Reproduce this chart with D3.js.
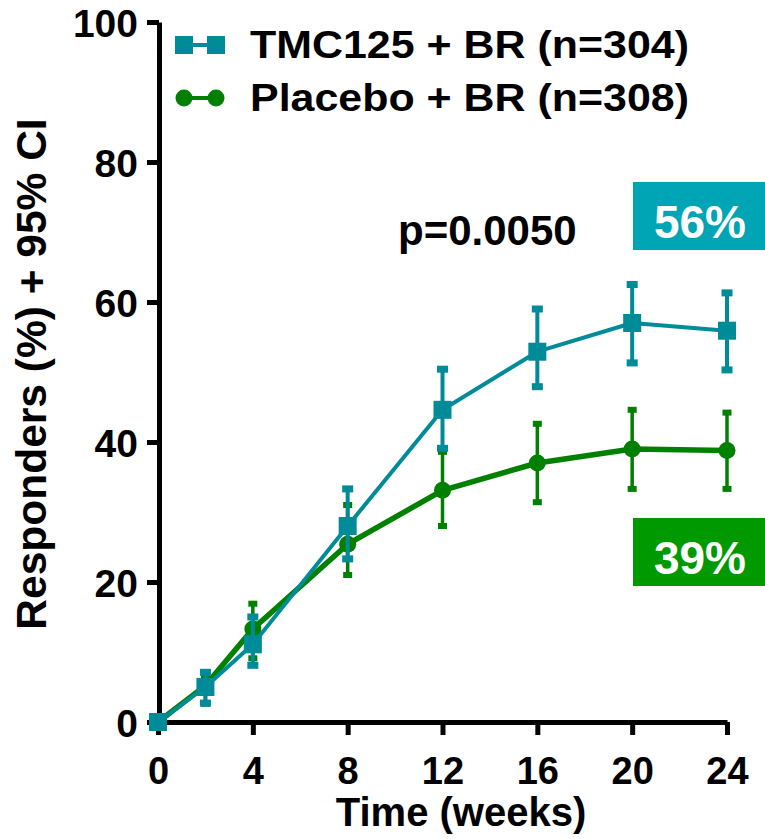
<!DOCTYPE html>
<html>
<head>
<meta charset="utf-8">
<script src="https://cdn.jsdelivr.net/npm/d3@7"></script>
<style>
  html, body { margin: 0; padding: 0; background: #fff; }
  svg { display: block; font-family: "Liberation Sans", Arial, sans-serif; font-weight: bold; }
</style>
</head>
<body>
<div id="chart"></div>
<script>
// Responders over time
const weeks = [0, 2, 4, 8, 12, 16, 20, 24];

const tmcMean = [0, 5.0, 11.1, 28.0, 44.6, 52.9, 57.0, 55.9];
const tmcLow  = [0, 2.7, 8.1, 23.3, 39.1, 47.9, 51.3, 50.3];
const tmcHigh = [0, 7.1, 15.0, 33.3, 50.4, 59.0, 62.5, 61.3];

const pboMean = [0, 5.2, 13.3, 25.4, 33.1, 37.0, 39.0, 38.8];
const pboLow  = [0, 2.6, 9.1, 21.0, 28.0, 31.4, 33.3, 33.3];
const pboHigh = [0, 6.6, 16.9, 31.0, 38.6, 42.6, 44.6, 44.2];

const xTicks = [0, 4, 8, 12, 16, 20, 24];
const yTicks = [0, 20, 40, 60, 80, 100];

const seriesNames = ['TMC125 + BR (n=304)', 'Placebo + BR (n=308)'];
const endLabels = ['56%', '39%'];
const pValue = 'p=0.0050';

const TEAL = '#008b98', TEAL_BOX = '#00a5b5';
const GREEN = '#008000', GREEN_BOX = '#009900';

const W = 765, H = 839;

const svg = d3.select('#chart').append('svg')
  .attr('width', W)
  .attr('height', H);

const x = d3.scaleLinear().domain([0, 24]).range([158, 727]);
const y = d3.scaleLinear().domain([0, 100]).range([722, 22]);

// Axes
const yAxis = svg.append('g')
  .attr('transform', 'translate(159,0)')
  .call(d3.axisLeft(y).tickValues(yTicks).tickSize(12).tickSizeOuter(0).tickPadding(9));

const xAxis = svg.append('g')
  .attr('transform', 'translate(0,722)')
  .call(d3.axisBottom(x).tickValues(xTicks).tickSize(13).tickSizeOuter(0).tickPadding(22));

[yAxis, xAxis].forEach(ax => {
  ax.select('.domain').attr('stroke', '#000').attr('stroke-width', 5);
  ax.selectAll('.tick line').attr('stroke', '#000').attr('stroke-width', 5);
  ax.selectAll('.tick text')
    .attr('fill', '#000')
    .attr('font-family', '"Liberation Sans", Arial, sans-serif')
    .attr('font-weight', 'bold');
});
yAxis.selectAll('.tick text').attr('font-size', 39).attr('dy', '0.36em');
xAxis.selectAll('.tick text').attr('font-size', 38);

// Axis titles
svg.append('text')
  .attr('transform', 'translate(46,374) rotate(-90)')
  .attr('text-anchor', 'middle')
  .attr('font-size', 42.5)
  .text('Responders (%) + 95% CI');

svg.append('text')
  .attr('x', 461)
  .attr('y', 826)
  .attr('text-anchor', 'middle')
  .attr('font-size', 40)
  .text('Time (weeks)');

// Series drawing
function drawSeries(mean, low, high, color, lineW, errW, capW, capH, marker) {
  const pts = weeks.map((w, i) => ({ w, m: mean[i], lo: low[i], hi: high[i] }));
  const g = svg.append('g');

  const line = d3.line().x(d => x(d.w)).y(d => y(d.m));
  g.append('path')
    .datum(pts)
    .attr('d', line)
    .attr('fill', 'none')
    .attr('stroke', color)
    .attr('stroke-width', lineW)
    .attr('stroke-linejoin', 'round');

  const bars = pts.filter(d => d.hi > d.lo);
  g.selectAll('.err')
    .data(bars)
    .join('line')
    .attr('x1', d => x(d.w)).attr('x2', d => x(d.w))
    .attr('y1', d => y(d.hi)).attr('y2', d => y(d.lo))
    .attr('stroke', color)
    .attr('stroke-width', errW);

  g.selectAll('.cap')
    .data(bars.flatMap(d => [{ w: d.w, v: d.hi }, { w: d.w, v: d.lo }]))
    .join('rect')
    .attr('x', d => x(d.w) - capW / 2)
    .attr('y', d => y(d.v) - capH / 2)
    .attr('width', capW)
    .attr('height', capH)
    .attr('fill', color);

  if (marker === 'square') {
    g.selectAll('.mk')
      .data(pts)
      .join('rect')
      .attr('x', d => x(d.w) - 9)
      .attr('y', d => y(d.m) - 9)
      .attr('width', 18)
      .attr('height', 18)
      .attr('fill', color);
  } else {
    g.selectAll('.mk')
      .data(pts)
      .join('circle')
      .attr('cx', d => x(d.w))
      .attr('cy', d => y(d.m))
      .attr('r', 8.5)
      .attr('fill', color);
  }
}

drawSeries(pboMean, pboLow, pboHigh, GREEN, 5.5, 3.5, 9, 6, 'circle');
drawSeries(tmcMean, tmcLow, tmcHigh, TEAL, 4, 4, 11, 7, 'square');

// Legend
const legend = svg.append('g');
const legendRows = [
  { name: seriesNames[0], color: TEAL, marker: 'square', cy: 45 },
  { name: seriesNames[1], color: GREEN, marker: 'circle', cy: 98 }
];
legendRows.forEach(r => {
  legend.append('line')
    .attr('x1', 184).attr('x2', 216)
    .attr('y1', r.cy).attr('y2', r.cy)
    .attr('stroke', r.color).attr('stroke-width', 4);
  [184, 216].forEach(cx => {
    if (r.marker === 'square') {
      legend.append('rect')
        .attr('x', cx - 9).attr('y', r.cy - 9)
        .attr('width', 18).attr('height', 18)
        .attr('fill', r.color);
    } else {
      legend.append('circle')
        .attr('cx', cx).attr('cy', r.cy).attr('r', 8.5)
        .attr('fill', r.color);
    }
  });
  // text in the reference is set a little wider than the font
  legend.append('text')
    .attr('transform', `translate(250,${r.cy + 13}) scale(1.13,1)`)
    .attr('font-size', 38)
    .attr('fill', '#000')
    .text(r.name);
});

// p-value
svg.append('text')
  .attr('x', 398)
  .attr('y', 245)
  .attr('font-size', 42)
  .text(pValue);

// End-point boxes
const boxes = [
  { label: endLabels[0], fill: TEAL_BOX, top: 182 },
  { label: endLabels[1], fill: GREEN_BOX, top: 518 }
];
boxes.forEach(b => {
  svg.append('rect')
    .attr('x', 633).attr('y', b.top)
    .attr('width', 132).attr('height', 68)
    .attr('fill', b.fill);
  svg.append('text')
    .attr('x', 700)
    .attr('y', b.top + 56)
    .attr('text-anchor', 'middle')
    .attr('font-size', 46)
    .attr('fill', '#fff')
    .text(b.label);
});
</script>
</body>
</html>
